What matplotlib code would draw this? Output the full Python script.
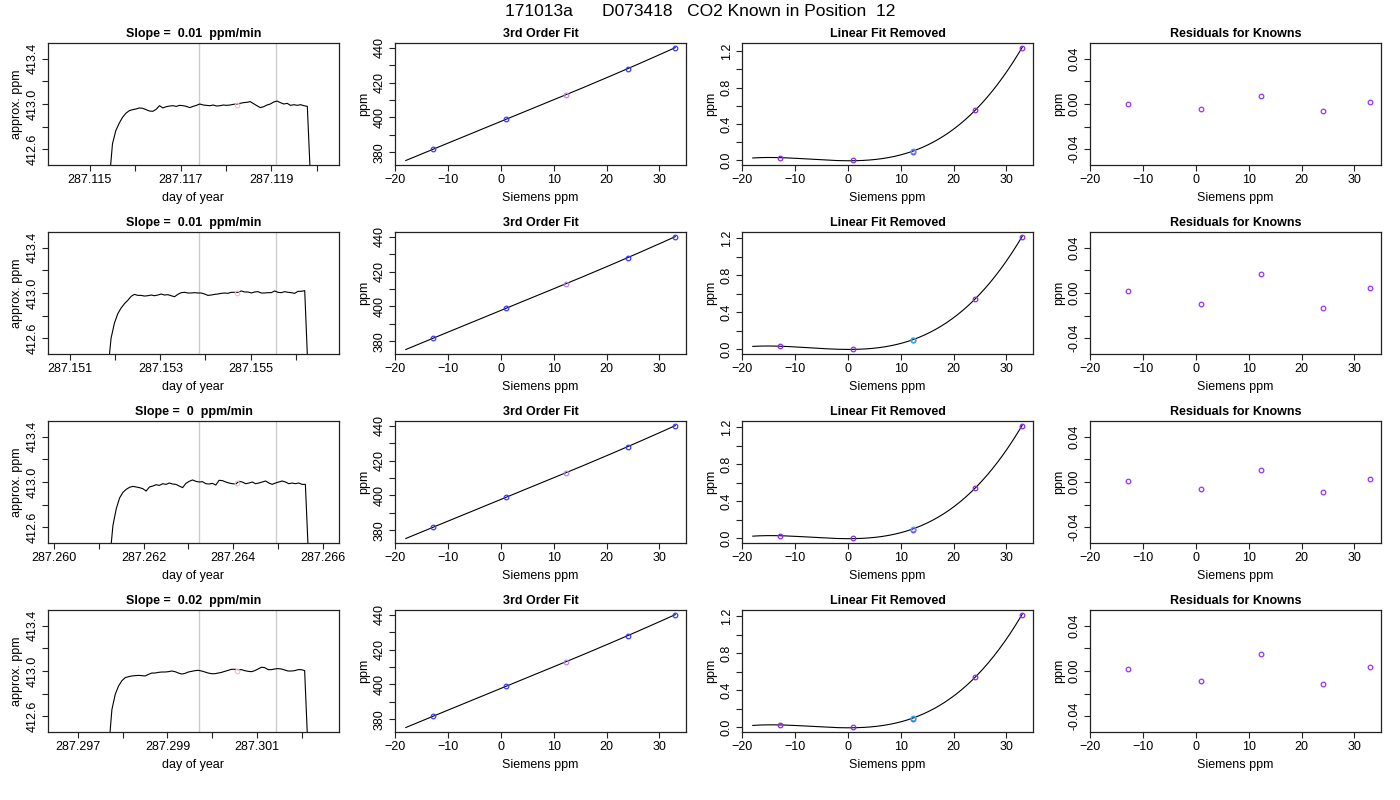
import matplotlib
matplotlib.use("Agg")
import matplotlib.pyplot as plt
import numpy as np

plt.rcParams['font.family'] = ['Liberation Sans', 'DejaVu Sans']

title = "171013a      D073418   CO2 Known in Position  12"
slopes = ["0.01", "0.01", "0", "0.02"]

# time series traces (ppm), sampled every 0.000074 day from t_start
sample_dt = 0.000074
t_start = [287.115426, 287.151834, 287.261244, 287.297689]
xlims = [(287.11408, 287.12049), (287.15051, 287.15696),
         (287.25987, 287.26636), (287.29634, 287.30282)]
xtick_first = [287.115, 287.151, 287.260, 287.297]
vlines = [(287.117397, 287.119110), (287.153849, 287.155568),
          (287.263230, 287.264956), (287.299696, 287.301422)]
pink_pts = [(287.11825, 412.994), (287.154705, 413.000),
            (287.264089, 412.991), (287.300556, 413.000)]

trace1 = [412.30, 412.647, 412.765, 412.829, 412.882, 412.918, 412.941, 412.950,
          412.956, 412.965, 412.962, 412.950, 412.938, 412.935, 412.953, 412.985,
          412.965, 412.976, 412.982, 412.985, 412.979, 412.988, 412.985, 412.979,
          412.968, 412.979, 412.988, 413.000, 412.991, 412.988, 412.985, 412.991,
          412.982, 412.985, 412.991, 412.988, 412.991, 412.997, 413.000, 413.006,
          413.012, 413.015, 413.021, 413.003, 412.985, 412.968, 412.976, 412.991,
          413.000, 413.018, 413.026, 413.012, 413.000, 413.006, 412.988, 412.994,
          412.988, 412.994, 412.985, 412.979, 412.30]
trace2 = [412.30, 412.600, 412.733, 412.816, 412.867, 412.905, 412.935, 412.970,
          412.988, 412.979, 412.979, 412.973, 412.976, 412.982, 412.976, 412.982,
          412.991, 412.982, 412.985, 412.976, 412.967, 412.988, 413.003, 413.006,
          413.000, 413.000, 413.003, 413.000, 413.000, 412.991, 412.979, 412.982,
          412.988, 412.991, 412.997, 413.000, 412.997, 413.006, 413.006, 413.006,
          413.018, 413.009, 413.009, 413.000, 413.009, 413.012, 413.000, 413.000,
          413.003, 413.003, 413.018, 413.006, 413.003, 413.012, 413.006, 413.003,
          412.997, 413.015, 413.015, 413.021, 412.30]
trace3 = [412.30, 412.615, 412.763, 412.858, 412.908, 412.935, 412.953, 412.961,
          412.956, 412.950, 412.941, 412.920, 412.956, 412.964, 412.976, 412.970,
          412.985, 412.979, 412.991, 412.982, 412.979, 412.964, 412.950, 412.988,
          413.006, 413.018, 413.006, 413.000, 413.003, 412.985, 412.982, 412.988,
          412.973, 413.015, 413.012, 413.000, 412.991, 412.985, 412.982, 413.006,
          413.000, 412.985, 412.991, 413.000, 412.985, 412.991, 413.000, 413.009,
          412.991, 412.979, 412.991, 413.000, 413.009, 413.000, 412.985, 412.991,
          412.985, 412.991, 412.979, 412.979, 412.30]
trace4 = [412.30, 412.659, 412.793, 412.867, 412.914, 412.941, 412.950, 412.956,
          412.959, 412.961, 412.959, 412.956, 412.970, 412.982, 412.982, 412.988,
          412.991, 412.991, 412.994, 413.000, 412.994, 412.982, 412.973, 412.979,
          412.991, 412.997, 413.003, 413.006, 413.000, 412.991, 412.982, 412.976,
          412.976, 412.982, 412.988, 412.997, 413.006, 413.015, 413.015, 413.012,
          413.012, 413.003, 412.997, 412.994, 413.003, 413.018, 413.033, 413.030,
          413.012, 413.012, 413.018, 413.021, 413.018, 413.009, 413.000, 413.000,
          413.003, 413.012, 413.012, 413.003, 412.30]
traces = [trace1, trace2, trace3, trace4]

# knowns
siemens = [-12.8, 1.0, 12.4, 24.0, 33.0]
known_ppm = [381.7, 398.9, 413.0, 428.1, 440.1]
lin_removed = [
    [0.030, 0.003, 0.095, 0.553, 1.240],
    [0.034, 0.006, 0.099, 0.545, 1.215],
    [0.028, 0.006, 0.092, 0.548, 1.218],
    [0.026, 0.005, 0.090, 0.548, 1.220],
]
cyan_vals = [0.104, 0.100, 0.105, 0.100]
residuals = [
    [0.0003, -0.0047, 0.0068, -0.0060, 0.0015],
    [0.0019, -0.0100, 0.0166, -0.0132, 0.0041],
    [0.0013, -0.0066, 0.0110, -0.0088, 0.0025],
    [0.0016, -0.0088, 0.0148, -0.0117, 0.0038],
]

fig = plt.figure(figsize=(14, 8), dpi=100)
fig.text(0.5, 1 - 12 / 800, title, ha='center', va='center', fontsize=12.5)

col_left = [48, 395, 742, 1090]
col_w = 291
row_top = [43, 232, 421, 610]
row_h = 122
fs = 9
ms = 3.3
spine_col = '#222222'


def make_ax(r, c):
    ax = fig.add_axes([col_left[c] / 1400, 1 - (row_top[r] + row_h) / 800,
                       col_w / 1400, row_h / 800])
    for s in ax.spines.values():
        s.set_color(spine_col)
        s.set_linewidth(0.9)
    ax.tick_params(direction='out', length=4.5, width=0.8, labelsize=fs,
                   color=spine_col, pad=2)
    return ax


def set_yticks(ax, ticks, labels):
    ax.set_yticks(ticks)
    ax.set_yticklabels(labels, rotation=90, va='center', fontsize=fs)


xfit = np.linspace(-18, 33, 200)
xlim_s = (-20.04, 35.04)

for r in range(4):
    # time series
    ax = make_ax(r, 0)
    t = t_start[r] + sample_dt * np.arange(len(traces[r]))
    ax.axvline(vlines[r][0], color='#cccccc', lw=1)
    ax.axvline(vlines[r][1], color='#cccccc', lw=1)
    ax.plot(t, traces[r], color='black', lw=0.8)
    ax.plot([pink_pts[r][0]], [pink_pts[r][1]], 'o', mfc='none', mec='#ffb6c1',
            ms=ms, mew=0.8)
    ax.set_xlim(*xlims[r])
    ax.set_ylim(412.46, 413.54)
    xt = [xtick_first[r] + 0.001 * i for i in range(8)
          if xtick_first[r] + 0.001 * i <= xlims[r][1]]
    ax.set_xticks(xt)
    ax.set_xticklabels(["%.3f" % v if i % 2 == 0 else "" for i, v in enumerate(xt)])
    set_yticks(ax, [412.6, 412.8, 413.0, 413.2, 413.4],
               ['412.6', '', '413.0', '', '413.4'])
    ax.set_title("Slope =  %s  ppm/min" % slopes[r], fontsize=fs, fontweight='bold', pad=4)
    ax.set_xlabel("day of year", fontsize=fs, labelpad=4)
    ax.set_ylabel("approx. ppm", fontsize=fs, labelpad=3)

    # 3rd order fit
    ax = make_ax(r, 1)
    coef = np.polyfit(siemens, known_ppm, 3)
    ax.plot(xfit, np.polyval(coef, xfit), color='black', lw=0.8)
    cols = ['#3a3aff', '#3a3aff', '#b48ae6', '#3a3aff', '#3a3aff']
    for xv, yv, cc in zip(siemens, known_ppm, cols):
        ax.plot([xv], [yv], 'o', mfc='none', mec=cc, ms=ms, mew=0.9)
    ax.set_xlim(*xlim_s)
    ax.set_ylim(372.6, 442.8)
    ax.set_xticks([-20, -10, 0, 10, 20, 30])
    set_yticks(ax, [380, 390, 400, 410, 420, 430, 440],
               ['380', '', '400', '', '420', '', '440'])
    ax.set_title("3rd Order Fit", fontsize=fs, fontweight='bold', pad=4)
    ax.set_xlabel("Siemens ppm", fontsize=fs, labelpad=4)
    ax.set_ylabel("ppm", fontsize=fs, labelpad=3)

    # linear fit removed
    ax = make_ax(r, 2)
    coef = np.polyfit(siemens, lin_removed[r], 3)
    ax.plot(xfit, np.polyval(coef, xfit), color='black', lw=0.8)
    ax.plot(siemens, lin_removed[r], 'o', mfc='none', mec='#8a2be2', ms=ms, mew=0.9)
    ax.plot([siemens[2]], [cyan_vals[r]], 'o', mfc='none', mec='#1eb4ff', ms=ms, mew=0.9)
    ax.set_xlim(*xlim_s)
    ymax = max(lin_removed[r])
    ax.set_ylim(-0.04 * ymax, 1.04 * ymax)
    ax.set_xticks([-20, -10, 0, 10, 20, 30])
    set_yticks(ax, [0.0, 0.2, 0.4, 0.6, 0.8, 1.0, 1.2],
               ['0.0', '', '0.4', '', '0.8', '', '1.2'])
    ax.set_title("Linear Fit Removed", fontsize=fs, fontweight='bold', pad=4)
    ax.set_xlabel("Siemens ppm", fontsize=fs, labelpad=4)
    ax.set_ylabel("ppm", fontsize=fs, labelpad=3)

    # residuals
    ax = make_ax(r, 3)
    ax.plot(siemens, residuals[r], 'o', mfc='none', mec='#9b30ff', ms=ms, mew=0.9)
    ax.set_xlim(*xlim_s)
    ax.set_ylim(-0.054, 0.054)
    ax.set_xticks([-20, -10, 0, 10, 20, 30])
    set_yticks(ax, [-0.04, -0.02, 0.0, 0.02, 0.04],
               ['-0.04', '', '0.00', '', '0.04'])
    ax.set_title("Residuals for Knowns", fontsize=fs, fontweight='bold', pad=4)
    ax.set_xlabel("Siemens ppm", fontsize=fs, labelpad=4)
    ax.set_ylabel("ppm", fontsize=fs, labelpad=3)

fig.savefig("out.png", dpi=100)
